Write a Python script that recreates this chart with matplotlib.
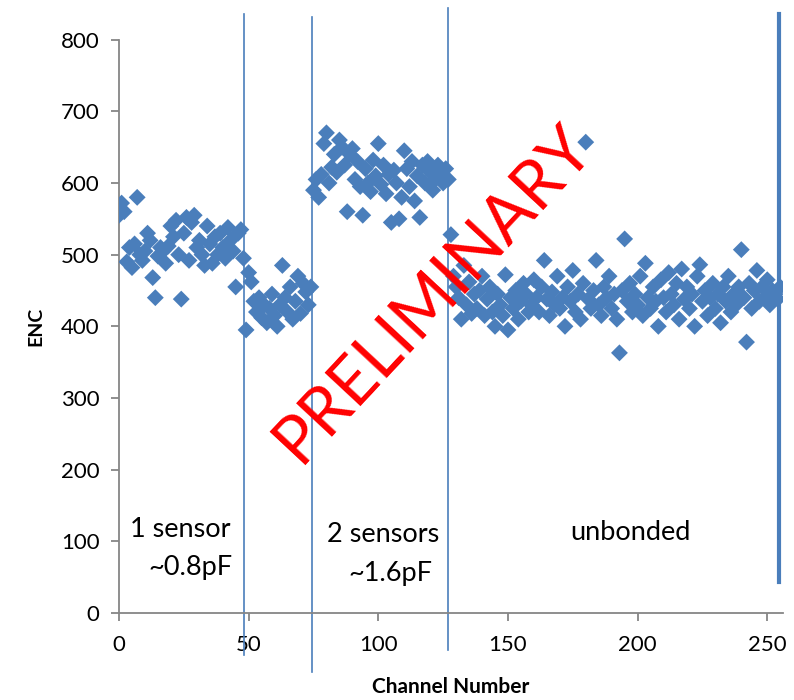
import numpy as np
import matplotlib
matplotlib.use("Agg")
import matplotlib.pyplot as plt

plt.rcParams['font.family'] = ['Lato', 'DejaVu Sans']

# ENC per channel
enc_1sensor = [555, 572, 560, 490, 510, 482, 515, 580, 500, 492, 505, 530, 520, 468, 440, 498,
               510, 505, 488, 512, 540, 525, 548, 500, 438, 530, 552, 492, 545, 555, 510, 520,
               500, 485, 540, 515, 488, 525, 500, 530, 510, 495, 538, 520, 505, 455, 530, 535]
enc_gap = [495, 395, 475, 462, 435, 420, 440, 412, 430, 405, 425, 445, 415, 400, 430, 485,
           440, 420, 455, 410, 435, 470, 418, 460, 448, 430, 455]
enc_2sensors = [590, 605, 580, 612, 655, 670, 600, 622, 640, 615, 660, 650, 625, 560, 640, 648,
                605, 630, 595, 555, 620, 600, 588, 632, 610, 655, 598, 625, 585, 612, 545, 618,
                600, 550, 580, 645, 620, 595, 630, 575, 610, 552, 625, 600, 630, 615, 590, 605,
                625, 610, 600, 620, 605]
enc_unbonded = [528, 470, 455, 440, 410, 485, 430, 462, 418, 445, 425, 450, 470, 415, 438, 455,
                420, 400, 445, 430, 415, 472, 395, 440, 425, 450, 410, 435, 460, 445, 420, 430,
                465, 440, 420, 455, 492, 438, 415, 448, 430, 470, 425, 440, 400, 455, 435, 478,
                420, 445, 410, 460, 657, 438, 425, 450, 492, 430, 415, 455, 440, 470, 425, 445,
                410, 363, 450, 522, 435, 460, 420, 445, 430, 470, 415, 488, 440, 425, 455, 435,
                400, 465, 440, 420, 475, 445, 430, 460, 410, 480, 438, 455, 425, 445, 400, 470,
                486, 435, 450, 415, 440, 460, 425, 445, 405, 455, 435, 470, 420, 445, 430, 455,
                507, 440, 378, 460, 425, 450, 478, 435, 455, 440, 465, 430, 450, 445, 438, 455]

enc = enc_1sensor + enc_gap + enc_2sensors + enc_unbonded
channels = np.arange(len(enc))

# Region boundary lines (channel, y-bottom, y-top, linewidth)
boundary_x = [48.2, 74.3, 126.9, 254.6]
boundary_ylo = [-59, -82, -52, 43]
boundary_yhi = [836, 832, 844, 836]
boundary_lw = [1.2, 1.2, 1.2, 3.0]

x_ticks = [0, 50, 100, 150, 200, 250]
y_ticks = [0, 100, 200, 300, 400, 500, 600, 700, 800]

blue = '#4A7EBB'
axis_gray = '#868686'

fig = plt.figure(figsize=(7.94, 7.0), dpi=100)
ax = fig.add_axes([0.1499, 0.1243, 0.836, 0.819])

ax.scatter(channels, enc, marker='D', s=8.6**2, color=blue, edgecolors='none', zorder=3)

for bx, lo, hi, lw in zip(boundary_x, boundary_ylo, boundary_yhi, boundary_lw):
    ax.plot([bx, bx], [lo, hi], color=blue, lw=lw, clip_on=False, zorder=2)

ax.set_xlim(0, 256)
ax.set_ylim(0, 800)
ax.set_xticks(x_ticks)
ax.set_yticks(y_ticks)
for s in ['top', 'right']:
    ax.spines[s].set_visible(False)
for s in ['left', 'bottom']:
    ax.spines[s].set_color(axis_gray)
    ax.spines[s].set_linewidth(1.3)
ax.tick_params(axis='both', colors=axis_gray, labelcolor='black', labelsize=16,
               direction='out', length=6, width=1.3)
ax.tick_params(axis='y', pad=8)
ax.tick_params(axis='x', pad=10)

ax.set_xlabel('Channel Number', fontsize=15, fontweight='bold', labelpad=16)
ax.set_ylabel('ENC', fontsize=14, fontweight='bold', labelpad=12)

ax.text(23.5, 116, '1 sensor', fontsize=19.5, ha='center', va='center')
ax.text(27.4, 64, '~0.8pF', fontsize=19.5, ha='center', va='center')
ax.text(102, 109, '2 sensors', fontsize=19.5, ha='center', va='center')
ax.text(104.5, 55, '~1.6pF', fontsize=19.5, ha='center', va='center')
ax.text(197.4, 112, 'unbonded', fontsize=19.5, ha='center', va='center')

ax.text(121.5, 445, 'PRELIMINARY', fontsize=48, color='#FF0000', rotation=47,
        ha='center', va='center', rotation_mode='anchor')

fig.savefig('out.png', dpi=100)
